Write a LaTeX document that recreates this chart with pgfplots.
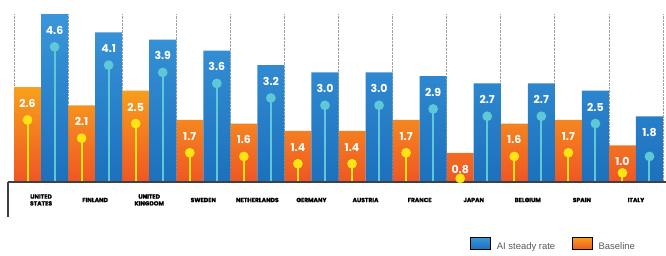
\documentclass[border=0pt]{standalone}
\usepackage{pgfplots}
\usepackage{pgfplotstable}
\pgfplotsset{compat=1.18}
\usepackage{fontspec}
\setmainfont{Liberation Sans}
\newfontfamily\pop{Poppins}
\newfontfamily\popheavy{Poppins}[BoldFeatures={FakeBold=1.6}]
\definecolor{orTop}{RGB}{248,160,28}
\definecolor{orBot}{RGB}{239,86,36}
\definecolor{blTop}{RGB}{58,150,218}
\definecolor{blBot}{RGB}{28,112,188}
\definecolor{stemY}{RGB}{255,228,20}
\definecolor{stemB}{RGB}{95,200,215}
\definecolor{gridg}{RGB}{160,160,160}
\definecolor{legtext}{RGB}{90,90,90}

\pgfplotstableread{
xo    xb    base  ai   bstem astem
-0.25 0.25  2.6   4.6  1.7   3.7
0.75  1.25  2.1   4.1  1.2   3.2
1.75  2.25  2.5   3.9  1.6   3.0
2.75  3.25  1.7   3.6  0.8   2.7
3.75  4.25  1.6   3.2  0.7   2.3
4.75  5.25  1.4   3.0  0.5   2.1
5.75  6.25  1.4   3.0  0.5   2.1
6.75  7.25  1.7   2.9  0.8   2.0
7.75  8.25  0.8   2.7  0.1   1.8
8.75  9.25  1.6   2.7  0.7   1.8
9.75  10.25 1.7   2.5  0.8   1.6
10.75 11.25 1.0   1.8  0.25  0.7
}\data

\begin{document}
\begin{tikzpicture}
\begin{axis}[
  scale only axis, width=649bp, height=168bp,
  xmin=-0.5, xmax=11.5, ymin=0, ymax=4.6,
  axis line style={draw=none},
  ytick=\empty,
  xtick={0,...,11},
  xticklabels={UNITED\\STATES, FINLAND, UNITED\\KINGDOM, SWEDEN, NETHERLANDS, GERMANY, AUSTRIA, FRANCE, JAPAN, BELGIUM, SPAIN, ITALY},
  major tick length=0pt, minor tick length=0pt,
  minor xtick={-0.5,0.5,...,11.5},
  xminorgrids=true,
  minor grid style={gridg, densely dotted, line width=0.7bp},
  clip=false,
  xticklabel style={font=\popheavy\bfseries\fontsize{6}{6.8}\selectfont, align=center, anchor=center, yshift=-18bp},
  legend columns=2,
  legend style={draw=none, fill=none, at={(0.703,-0.369)}, anchor=west, inner sep=0pt,
    font=\fontsize{9.5}{10}\selectfont\color{legtext},
    nodes={inner sep=0pt},
    /tikz/every odd column/.append style={column sep=6bp},
    /tikz/every even column/.append style={column sep=17bp}},
  nodes near coords={\pgfmathprintnumber[assume math mode=true,fixed,fixed zerofill,precision=1]{\pgfplotspointmeta}},
  every node near coord/.append style={font=\pop\bfseries\fontsize{11}{11}\selectfont, text=white, anchor=north, inner sep=0pt, yshift=-12bp},
]
\addplot[ybar, bar width=27.04bp, bar shift=0pt, draw=none, top color=orTop, bottom color=orBot, forget plot] table[x=xo,y=base]{\data};
\addplot[ybar, bar width=27.04bp, bar shift=0pt, draw=none, top color=blTop, bottom color=blBot, forget plot] table[x=xb,y=ai]{\data};
\addplot[ycomb, stemY, line width=2bp, mark=*, mark size=3.8bp, mark options={fill=stemY, draw=none}, nodes near coords={}, forget plot] table[x=xo,y=bstem]{\data};
\addplot[ycomb, stemB, line width=2bp, mark=*, mark size=3.8bp, mark options={fill=stemB, draw=none}, nodes near coords={}, forget plot] table[x=xb,y=astem]{\data};
\addlegendimage{legend image code/.code={\shade[top color=blTop, bottom color=blBot] (0bp,-3bp) rectangle (20bp,9bp);}}
\addlegendentry{AI steady rate}
\addlegendimage{legend image code/.code={\shade[top color=orTop, bottom color=orBot] (0bp,-3bp) rectangle (20bp,9bp);}}
\addlegendentry{Baseline}
\coordinate (bl) at (axis cs:-0.5,0);
\draw[line width=1.2bp, black!75] (bl) ++(-6bp,0bp) -- ++(658bp,0bp);
\draw[line width=1.2bp, black!75] (bl) ++(-6bp,0bp) -- ++(0bp,-35bp);
\end{axis}
\pgfresetboundingbox
\path (bl) ++(-14bp,-74bp) rectangle ++(666bp,256bp);
\end{tikzpicture}
\end{document}
